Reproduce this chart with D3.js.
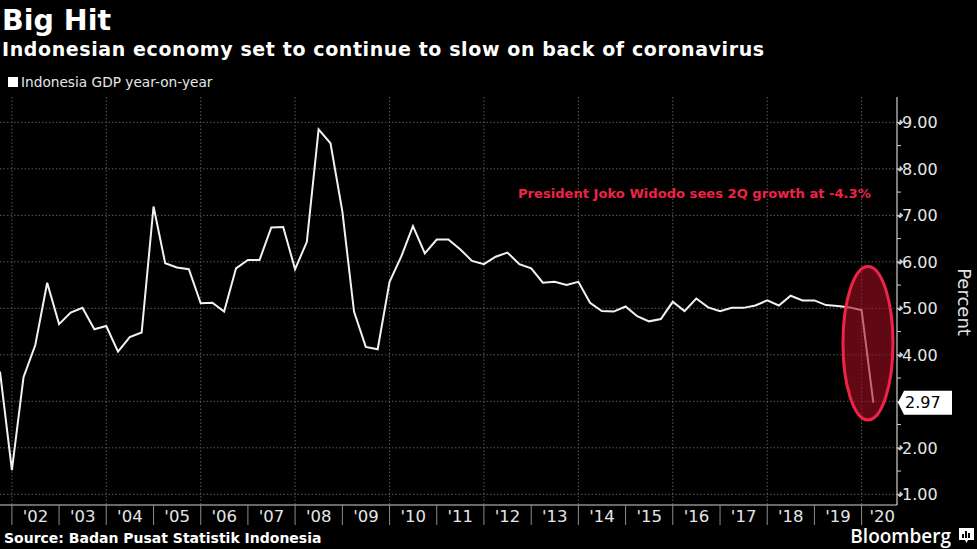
<!DOCTYPE html>
<html>
<head>
<meta charset="utf-8">
<script src="https://cdn.jsdelivr.net/npm/d3@7"></script>
<style>
  html, body { margin: 0; padding: 0; background: #000; }
  svg { display: block; }
</style>
</head>
<body>
<svg id="chart" width="977" height="549"></svg>
<script>
// ---------------- DATA ----------------
const years = [2001, 2002, 2003, 2004, 2005, 2006, 2007, 2008, 2009, 2010,
               2011, 2012, 2013, 2014, 2015, 2016, 2017, 2018, 2019, 2020];
// quarterly labels (quarter end), Q3 2001 .. Q1 2020
const quarters = [
  "2001Q3","2001Q4",
  "2002Q1","2002Q2","2002Q3","2002Q4",
  "2003Q1","2003Q2","2003Q3","2003Q4",
  "2004Q1","2004Q2","2004Q3","2004Q4",
  "2005Q1","2005Q2","2005Q3","2005Q4",
  "2006Q1","2006Q2","2006Q3","2006Q4",
  "2007Q1","2007Q2","2007Q3","2007Q4",
  "2008Q1","2008Q2","2008Q3","2008Q4",
  "2009Q1","2009Q2","2009Q3","2009Q4",
  "2010Q1","2010Q2","2010Q3","2010Q4",
  "2011Q1","2011Q2","2011Q3","2011Q4",
  "2012Q1","2012Q2","2012Q3","2012Q4",
  "2013Q1","2013Q2","2013Q3","2013Q4",
  "2014Q1","2014Q2","2014Q3","2014Q4",
  "2015Q1","2015Q2","2015Q3","2015Q4",
  "2016Q1","2016Q2","2016Q3","2016Q4",
  "2017Q1","2017Q2","2017Q3","2017Q4",
  "2018Q1","2018Q2","2018Q3","2018Q4",
  "2019Q1","2019Q2","2019Q3","2019Q4",
  "2020Q1"
];
const gdpYoY = [
  3.64, 1.52,
  3.52, 4.21, 5.55, 4.66,
  4.91, 5.01, 4.55, 4.62,
  4.07, 4.38, 4.48, 7.19,
  5.97, 5.88, 5.84, 5.11,
  5.12, 4.93, 5.86, 6.04,
  6.04, 6.74, 6.75, 5.84,
  6.43, 8.85, 8.55, 7.08,
  4.93, 4.17, 4.12, 5.57,
  6.11, 6.77, 6.18, 6.48,
  6.48, 6.27, 6.02, 5.95,
  6.11, 6.20, 5.95, 5.86,
  5.55, 5.57, 5.50, 5.57,
  5.12, 4.94, 4.93, 5.04,
  4.83, 4.72, 4.77, 5.14,
  4.94, 5.21, 5.02, 4.94,
  5.01, 5.01, 5.06, 5.17,
  5.06, 5.27, 5.17, 5.17,
  5.07, 5.05, 5.02, 4.96,
  2.97
];
const yTicks = [1, 2, 3, 4, 5, 6, 7, 8, 9];
const yMinorTicks = [1.5, 2.5, 3.5, 4.5, 5.5, 6.5, 7.5, 8.5];
const title = "Big Hit";
const subtitle = "Indonesian economy set to continue to slow on back of coronavirus";
const legendLabel = "Indonesia GDP year-on-year";
const annotationText = "President Joko Widodo sees 2Q growth at -4.3%";
const sourceText = "Source: Badan Pusat Statistik Indonesia";
const yAxisTitle = "Percent";
const lastLabel = "2.97";

// ---------------- LAYOUT ----------------
const W = 977, H = 549;
const plot = { left: 0, right: 897, top: 97, bottom: 505 };
const svg = d3.select("#chart");
svg.append("rect").attr("width", W).attr("height", H).attr("fill", "#000");

// quarter end date
const qEnd = q => {
  const yy = +q.slice(0, 4), n = +q.slice(5);
  return new Date(Date.UTC(yy, n * 3, 1));
};
const data = quarters.map((q, i) => ({ date: qEnd(q), value: gdpYoY[i] }));

const x = d3.scaleUtc()
  .domain([new Date(Date.UTC(2001, 9, 1)), new Date(Date.UTC(2020, 9, 1))])
  .range([plot.left, plot.right]);
const y = d3.scaleLinear()
  .domain([0.77, 9.545])
  .range([plot.bottom, plot.top]);

const gridColor = "#5a5a5a";
const textColor = "#e6e6e6";
const fontMain = "'DejaVu Sans', Verdana, sans-serif";

// horizontal grid
svg.append("g").selectAll("line").data(yTicks).join("line")
  .attr("x1", plot.left).attr("x2", plot.right)
  .attr("y1", d => y(d)).attr("y2", d => y(d))
  .attr("stroke", gridColor).attr("stroke-width", 1)
  .attr("stroke-dasharray", "1.5,2");

// vertical grid every 2 years
const gridYears = years.filter(yr => yr >= 2002 && yr % 2 === 0);
svg.append("g").selectAll("line").data(gridYears).join("line")
  .attr("x1", d => x(new Date(Date.UTC(d, 0, 1))))
  .attr("x2", d => x(new Date(Date.UTC(d, 0, 1))))
  .attr("y1", plot.top).attr("y2", plot.bottom)
  .attr("stroke", gridColor).attr("stroke-width", 1)
  .attr("stroke-dasharray", "1.5,2");

// line
const line = d3.line().x(d => x(d.date)).y(d => y(d.value));
svg.append("path").datum(data)
  .attr("d", line)
  .attr("fill", "none")
  .attr("stroke", "#f2f2f2")
  .attr("stroke-width", 2)
  .attr("stroke-linejoin", "miter");

// highlight ellipse around last two points
const lastTwo = data.slice(-2);
const ex = (x(lastTwo[0].date) + x(lastTwo[1].date)) / 2 + 0.5;
svg.append("ellipse")
  .attr("cx", ex)
  .attr("cy", (y(5.9) + y(2.6)) / 2)
  .attr("rx", 25)
  .attr("ry", (y(2.6) - y(5.9)) / 2)
  .attr("fill", "rgba(160, 15, 35, 0.6)")
  .attr("stroke", "#ee2347")
  .attr("stroke-width", 3);

// annotation
svg.append("text")
  .attr("x", 518).attr("y", 198)
  .attr("fill", "#ee2347")
  .attr("font-family", fontMain)
  .attr("font-weight", "bold")
  .attr("font-size", 13.1)
  .text(annotationText);

// last value label position
const lastPt = data[data.length - 1];
const ly = y(lastPt.value);

// Y axis (right)
const yAxisG = svg.append("g");
yAxisG.append("line")
  .attr("x1", plot.right).attr("x2", plot.right)
  .attr("y1", plot.top).attr("y2", plot.bottom)
  .attr("stroke", "#cfcfcf").attr("stroke-width", 1.2);
yAxisG.selectAll("line.minor").data(yMinorTicks).join("line")
  .attr("class", "minor")
  .attr("x1", plot.right).attr("x2", plot.right + 4)
  .attr("y1", d => y(d)).attr("y2", d => y(d))
  .attr("stroke", "#cfcfcf");
yAxisG.selectAll("path.major").data(yTicks).join("path")
  .attr("class", "major")
  .attr("d", d => `M${plot.right},${y(d)}H${plot.right + 3}L${plot.right + 3},${y(d) - 2.5}L${plot.right + 6},${y(d)}L${plot.right + 3},${y(d) + 2.5}Z`)
  .attr("fill", "#cfcfcf").attr("stroke", "#cfcfcf").attr("stroke-width", 0.8);
yAxisG.selectAll("text").data(yTicks.filter(d => Math.abs(y(d) - ly) > 14)).join("text")
  .attr("x", plot.right + 5)
  .attr("y", d => y(d))
  .attr("dy", "0.36em")
  .attr("fill", textColor)
  .attr("font-family", fontMain)
  .attr("font-size", 16)
  .text(d => d3.format(".2f")(d));

// last value label
svg.append("path")
  .attr("d", `M${plot.right + 1},${ly} L${plot.right + 7},${ly - 12} H${plot.right + 55} V${ly + 12} H${plot.right + 7} Z`)
  .attr("fill", "#ffffff");
svg.append("text")
  .attr("x", plot.right + 8).attr("y", ly)
  .attr("dy", "0.36em")
  .attr("fill", "#000")
  .attr("font-family", fontMain)
  .attr("font-size", 16)
  .text(lastLabel);

// y axis title
svg.append("text")
  .attr("transform", `translate(958, 302) rotate(90)`)
  .attr("text-anchor", "middle")
  .attr("fill", textColor)
  .attr("font-family", fontMain)
  .attr("font-size", 18)
  .text(yAxisTitle);

// X axis
const xAxisG = svg.append("g");
xAxisG.append("line")
  .attr("x1", plot.left).attr("x2", plot.right)
  .attr("y1", plot.bottom).attr("y2", plot.bottom)
  .attr("stroke", "#cfcfcf").attr("stroke-width", 1.2);
const labelYears = years.filter(yr => yr >= 2002);
xAxisG.selectAll("line.sep").data(labelYears).join("line")
  .attr("class", "sep")
  .attr("x1", d => x(new Date(Date.UTC(d, 0, 1))))
  .attr("x2", d => x(new Date(Date.UTC(d, 0, 1))))
  .attr("y1", plot.bottom).attr("y2", plot.bottom + 20)
  .attr("stroke", "#8a8a8a").attr("stroke-width", 1);
xAxisG.selectAll("text").data(labelYears).join("text")
  .attr("x", d => {
    const s = x(new Date(Date.UTC(d, 0, 1)));
    const full = x(new Date(Date.UTC(d + 1, 0, 1)));
    const e = Math.min(full, plot.right);
    return (s + e) / 2 + (e < full ? 3 : 0);
  })
  .attr("y", 522)
  .attr("text-anchor", "middle")
  .attr("fill", textColor)
  .attr("font-family", fontMain)
  .attr("font-size", 16.5)
  .text(d => "'" + String(d).slice(2));

// titles
svg.append("text")
  .attr("x", 2).attr("y", 30)
  .attr("fill", "#fff")
  .attr("font-family", fontMain)
  .attr("font-weight", "bold")
  .attr("font-size", 28.5)
  .text(title);
svg.append("text")
  .attr("x", 2).attr("y", 56)
  .attr("fill", "#fff")
  .attr("font-family", fontMain)
  .attr("font-weight", "bold")
  .attr("font-size", 19)
  .attr("letter-spacing", 0.6)
  .text(subtitle);

// legend
svg.append("rect")
  .attr("x", 8).attr("y", 77).attr("width", 10).attr("height", 10)
  .attr("fill", "#fff");
svg.append("text")
  .attr("x", 21).attr("y", 87)
  .attr("fill", textColor)
  .attr("font-family", fontMain)
  .attr("font-size", 13.7)
  .text(legendLabel);

// source
svg.append("text")
  .attr("x", 4).attr("y", 543)
  .attr("fill", "#fff")
  .attr("font-family", fontMain)
  .attr("font-weight", "bold")
  .attr("font-size", 14)
  .text(sourceText);

// Bloomberg mark
svg.append("text")
  .attr("x", 951).attr("y", 543)
  .attr("text-anchor", "end")
  .attr("fill", "#fff")
  .attr("font-family", "'Open Sans', 'DejaVu Sans', sans-serif")
  .attr("font-weight", "600")
  .attr("font-size", 19)
  .text("Bloomberg");
const logo = svg.append("g").attr("transform", "translate(959, 528)");
logo.append("path")
  .attr("d", "M0,0 H15 V12 H9 L7.5,15 L6,12 H0 Z")
  .attr("fill", "#fff");
[[3, 6, 2], [6, 3, 2], [9, 5, 2]].forEach(([bx, by, bw]) => {
  logo.append("rect").attr("x", bx).attr("y", by).attr("width", bw).attr("height", 10 - by)
    .attr("fill", "#000");
});
</script>
</body>
</html>
